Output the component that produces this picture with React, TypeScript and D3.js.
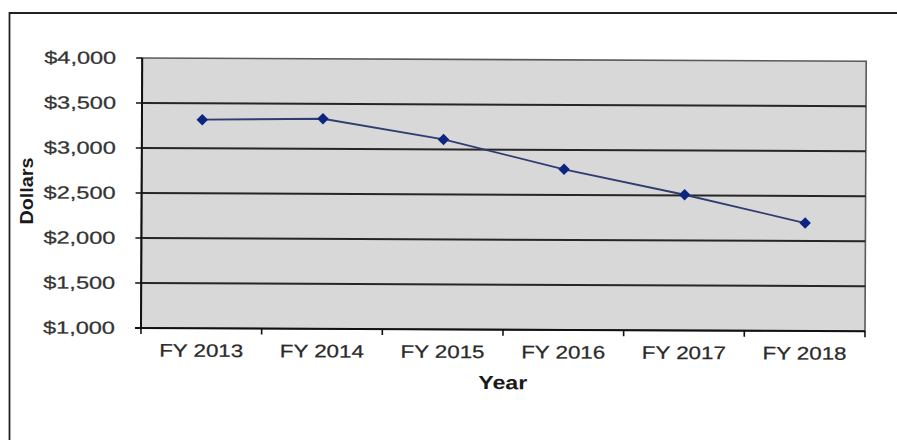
import React from "react";
import * as d3 from "d3";

// Cost per year, in dollars
const categories = ["FY 2013", "FY 2014", "FY 2015", "FY 2016", "FY 2017", "FY 2018"];
const dollars = [3318, 3334, 3110, 2785, 2508, 2200];
const yTicks = [1000, 1500, 2000, 2500, 3000, 3500, 4000];

const W = 897;
const H = 440;
const plot = { left: 141, right: 865, top: 58, bottom: 328 };

const fmt = (v: number) => "$" + d3.format(",")(v);

export default function App() {
  const x = d3
    .scaleBand<string>()
    .domain(categories)
    .range([plot.left, plot.right]);
  const y = d3.scaleLinear().domain([1000, 4000]).range([plot.bottom, plot.top]);

  const line = d3
    .line<number>()
    .x((_, i) => (x(categories[i]) as number) + x.bandwidth() / 2)
    .y((d) => y(d));

  const diamond = d3.symbol().type(d3.symbolSquare).size(66)() as string;
  const boundaries = [...categories.map((c) => x(c) as number), plot.right];

  return (
    <div style={{ position: "absolute", left: 0, top: 0 }}>
      <svg width={W} height={H} style={{ display: "block", background: "#fff" }}>
        {/* outer frame */}
        <path d={`M9.5,${H} V13 H${W}`} fill="none" stroke="#222" strokeWidth={1.8} />

        <g transform={`rotate(0.26, ${plot.left}, ${plot.bottom})`}>
          {/* plot area */}
          <rect
            x={plot.left}
            y={plot.top}
            width={plot.right - plot.left}
            height={plot.bottom - plot.top}
            fill="#d8d8d8"
            stroke="#5a5a5a"
            strokeWidth={1.6}
          />

          {/* horizontal gridlines */}
          {yTicks.slice(1, -1).map((t) => (
            <line
              key={t}
              x1={plot.left}
              x2={plot.right}
              y1={y(t)}
              y2={y(t)}
              stroke="#262626"
              strokeWidth={2}
            />
          ))}

          {/* axes */}
          <line x1={plot.left} x2={plot.left} y1={plot.top} y2={plot.bottom} stroke="#111" strokeWidth={2} />
          <line x1={plot.left - 6} x2={plot.right} y1={plot.bottom} y2={plot.bottom} stroke="#111" strokeWidth={2} />

          {/* y ticks and labels */}
          {yTicks.map((t) => (
            <g key={t}>
              <line x1={plot.left - 6} x2={plot.left} y1={y(t)} y2={y(t)} stroke="#111" strokeWidth={1.6} />
              <text
                x={115}
                y={y(t) + 6}
                textAnchor="end"
                fontFamily="Arial, 'Liberation Sans', sans-serif"
                fontSize={17.5}
                fill="#333"
                stroke="#333"
                strokeWidth={0.25}
                textLength={72}
                lengthAdjust="spacingAndGlyphs"
              >
                {fmt(t)}
              </text>
            </g>
          ))}

          {/* x ticks and labels */}
          {boundaries.map((b, i) => (
            <line key={i} x1={b} x2={b} y1={plot.bottom} y2={plot.bottom + 6} stroke="#111" strokeWidth={1.6} />
          ))}
          {categories.map((c) => (
            <text
              key={c}
              x={(x(c) as number) + x.bandwidth() / 2}
              y={356.5}
              textAnchor="middle"
              fontFamily="Arial, 'Liberation Sans', sans-serif"
              fontSize={18}
              fill="#2a2a2a"
              stroke="#2a2a2a"
              strokeWidth={0.25}
              textLength={84}
              lengthAdjust="spacingAndGlyphs"
            >
              {c}
            </text>
          ))}

          {/* axis titles */}
          <text
            x={(plot.left + plot.right) / 2}
            y={387.5}
            textAnchor="middle"
            fontFamily="Arial, 'Liberation Sans', sans-serif"
            fontWeight="bold"
            fontSize={19}
            fill="#1a1a1a"
            textLength={49}
            lengthAdjust="spacingAndGlyphs"
          >
            Year
          </text>

          {/* series */}
          <path d={line(dollars) as string} fill="none" stroke="#2f3d70" strokeWidth={1.8} />
          {dollars.map((v, i) => (
            <path
              key={categories[i]}
              d={diamond}
              transform={`translate(${(x(categories[i]) as number) + x.bandwidth() / 2}, ${y(v)}) rotate(45)`}
              fill="#0d2580"
            />
          ))}
        </g>

        <text
          transform={`translate(33, 191) rotate(-90)`}
          textAnchor="middle"
          fontFamily="Arial, 'Liberation Sans', sans-serif"
          fontWeight="bold"
          fontSize={19}
          fill="#1a1a1a"
          textLength={67}
          lengthAdjust="spacingAndGlyphs"
        >
          Dollars
        </text>
      </svg>
    </div>
  );
}
